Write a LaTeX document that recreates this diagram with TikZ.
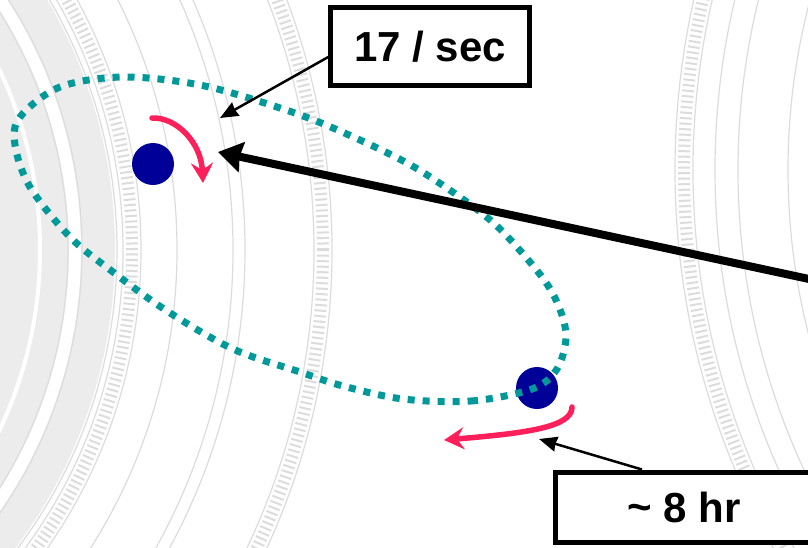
\documentclass[tikz,border=0pt]{standalone}
\usepackage{fontspec}
\setmainfont{Liberation Sans}
\usetikzlibrary{arrows.meta,calc}
\definecolor{teal1}{HTML}{009999}
\definecolor{navy1}{HTML}{000099}
\definecolor{rose1}{HTML}{FF1F5A}
\definecolor{bgline}{HTML}{DCDCDC}
\definecolor{bgfill}{HTML}{ECECEC}
\tikzset{
  labelbox/.style={draw=black, line width=5pt, fill=white, inner sep=0pt,
    font=\fontsize{42}{50}\selectfont\bfseries},
  planet/.style={circle, fill=navy1, minimum size=42pt, inner sep=0pt},
  orbitline/.style={teal1, line width=7pt, dash pattern=on 7pt off 8pt},
  spinarrow/.style={rose1, line width=5.5pt, line cap=round,
    -{Stealth[length=20pt,width=22pt,inset=7pt]}},
  thinarrow/.style={black, line width=2.5pt,
    -{Stealth[length=18pt,width=15pt,inset=1pt]}},
  thickarrow/.style={black, line width=8pt,
    -{Stealth[length=24pt,width=30pt,inset=2pt]}},
  bgring/.style={bgline, line width=1.2pt},
  bgticks/.style={bgline, line width=12pt, dash pattern=on 2pt off 3.5pt}
}
\begin{document}
\begin{tikzpicture}[x=1pt,y=-1pt]
\useasboundingbox (0,0) rectangle (808,547);
% faded dial background
\begin{scope}
  \clip (0,0) rectangle (808,547);
  \fill[white] (0,0) rectangle (808,547);
  % left dial
  \coordinate (L) at (-380,250);
  \fill[bgfill] (L) circle[radius=495pt];
  \draw[white, line width=12pt] (L) circle[radius=455pt];
  \draw[white, line width=4pt] (L) circle[radius=420pt];
  \draw[bgring] (L) circle[radius=448pt];
  \draw[bgring] (L) circle[radius=462pt];
  \draw[bgring] (L) circle[radius=497pt];
  \draw[bgticks] (L) circle[radius=512pt];
  \draw[bgring] (L) circle[radius=503pt];
  \draw[bgring] (L) circle[radius=521pt];
  \draw[bgring] (L) circle[radius=557pt];
  \draw[bgring] (L) circle[radius=613pt];
  \draw[bgring] (L) circle[radius=625pt];
  \draw[bgticks] (L) circle[radius=703pt];
  \draw[bgring] (L) circle[radius=694pt];
  \draw[bgring] (L) circle[radius=712pt];
  % right dial
  \coordinate (R) at (1450,170);
  \fill[bgfill] (R) circle[radius=660pt];
  \fill[white] (R) circle[radius=700pt] (R) circle[radius=730pt];
  \draw[bgring] (R) circle[radius=775pt];
  \draw[bgticks] (R) circle[radius=766pt];
  \draw[bgring] (R) circle[radius=757pt];
  \draw[bgring] (R) circle[radius=735pt];
  \draw[bgring] (R) circle[radius=712pt];
  \draw[bgring] (R) circle[radius=662pt];
\end{scope}

% planets
\node[planet] (d1) at (153,164) {};
\node[planet] (d2) at (537,388) {};

% orbit
\draw[orbitline] plot[smooth cycle, tension=0.55] coordinates {
  (403,399) (471,401) (532,389) (557,369) (566,337) (559,307) (542,277)
  (501,230) (464,200) (407,163) (333,128) (277,107) (200,85) (123,77)
  (60,87) (20,117) (15,145) (30,187) (70,237) (113,272) (167,311)
  (233,349) (300,372) (343,386)};

% spin arrows
\coordinate (s1a) at (152,118);
\coordinate (s1b) at (203,183);
\coordinate (s2a) at (572,407);
\coordinate (s2b) at (444,440);
\draw[spinarrow] (s1a) .. controls (176,117) and (201,142) .. (s1b);
\draw[spinarrow] (s2a) .. controls (572,427) and (528,433) .. (s2b);

% labels
\node[labelbox, minimum width=198.5pt, minimum height=78pt] (b1) at (430,46.5) {17 / sec};
\node[labelbox, minimum width=258pt, minimum height=70pt] (b2) at (684,507) {\raisebox{1pt}{\char`\~} 8 hr};

% pointers
\coordinate (p1) at (220,118);
\coordinate (p2) at (539,439);
\coordinate (p3) at (218,152);
\coordinate (far) at (830,283.5);
\draw[thinarrow] ($(b1.west)+(0,10.5)$) -- (p1);
\draw[thinarrow] ($(b2.north)+(-42,0)$) -- (p2);
\draw[thickarrow] (far) -- (p3);
\end{tikzpicture}
\end{document}
